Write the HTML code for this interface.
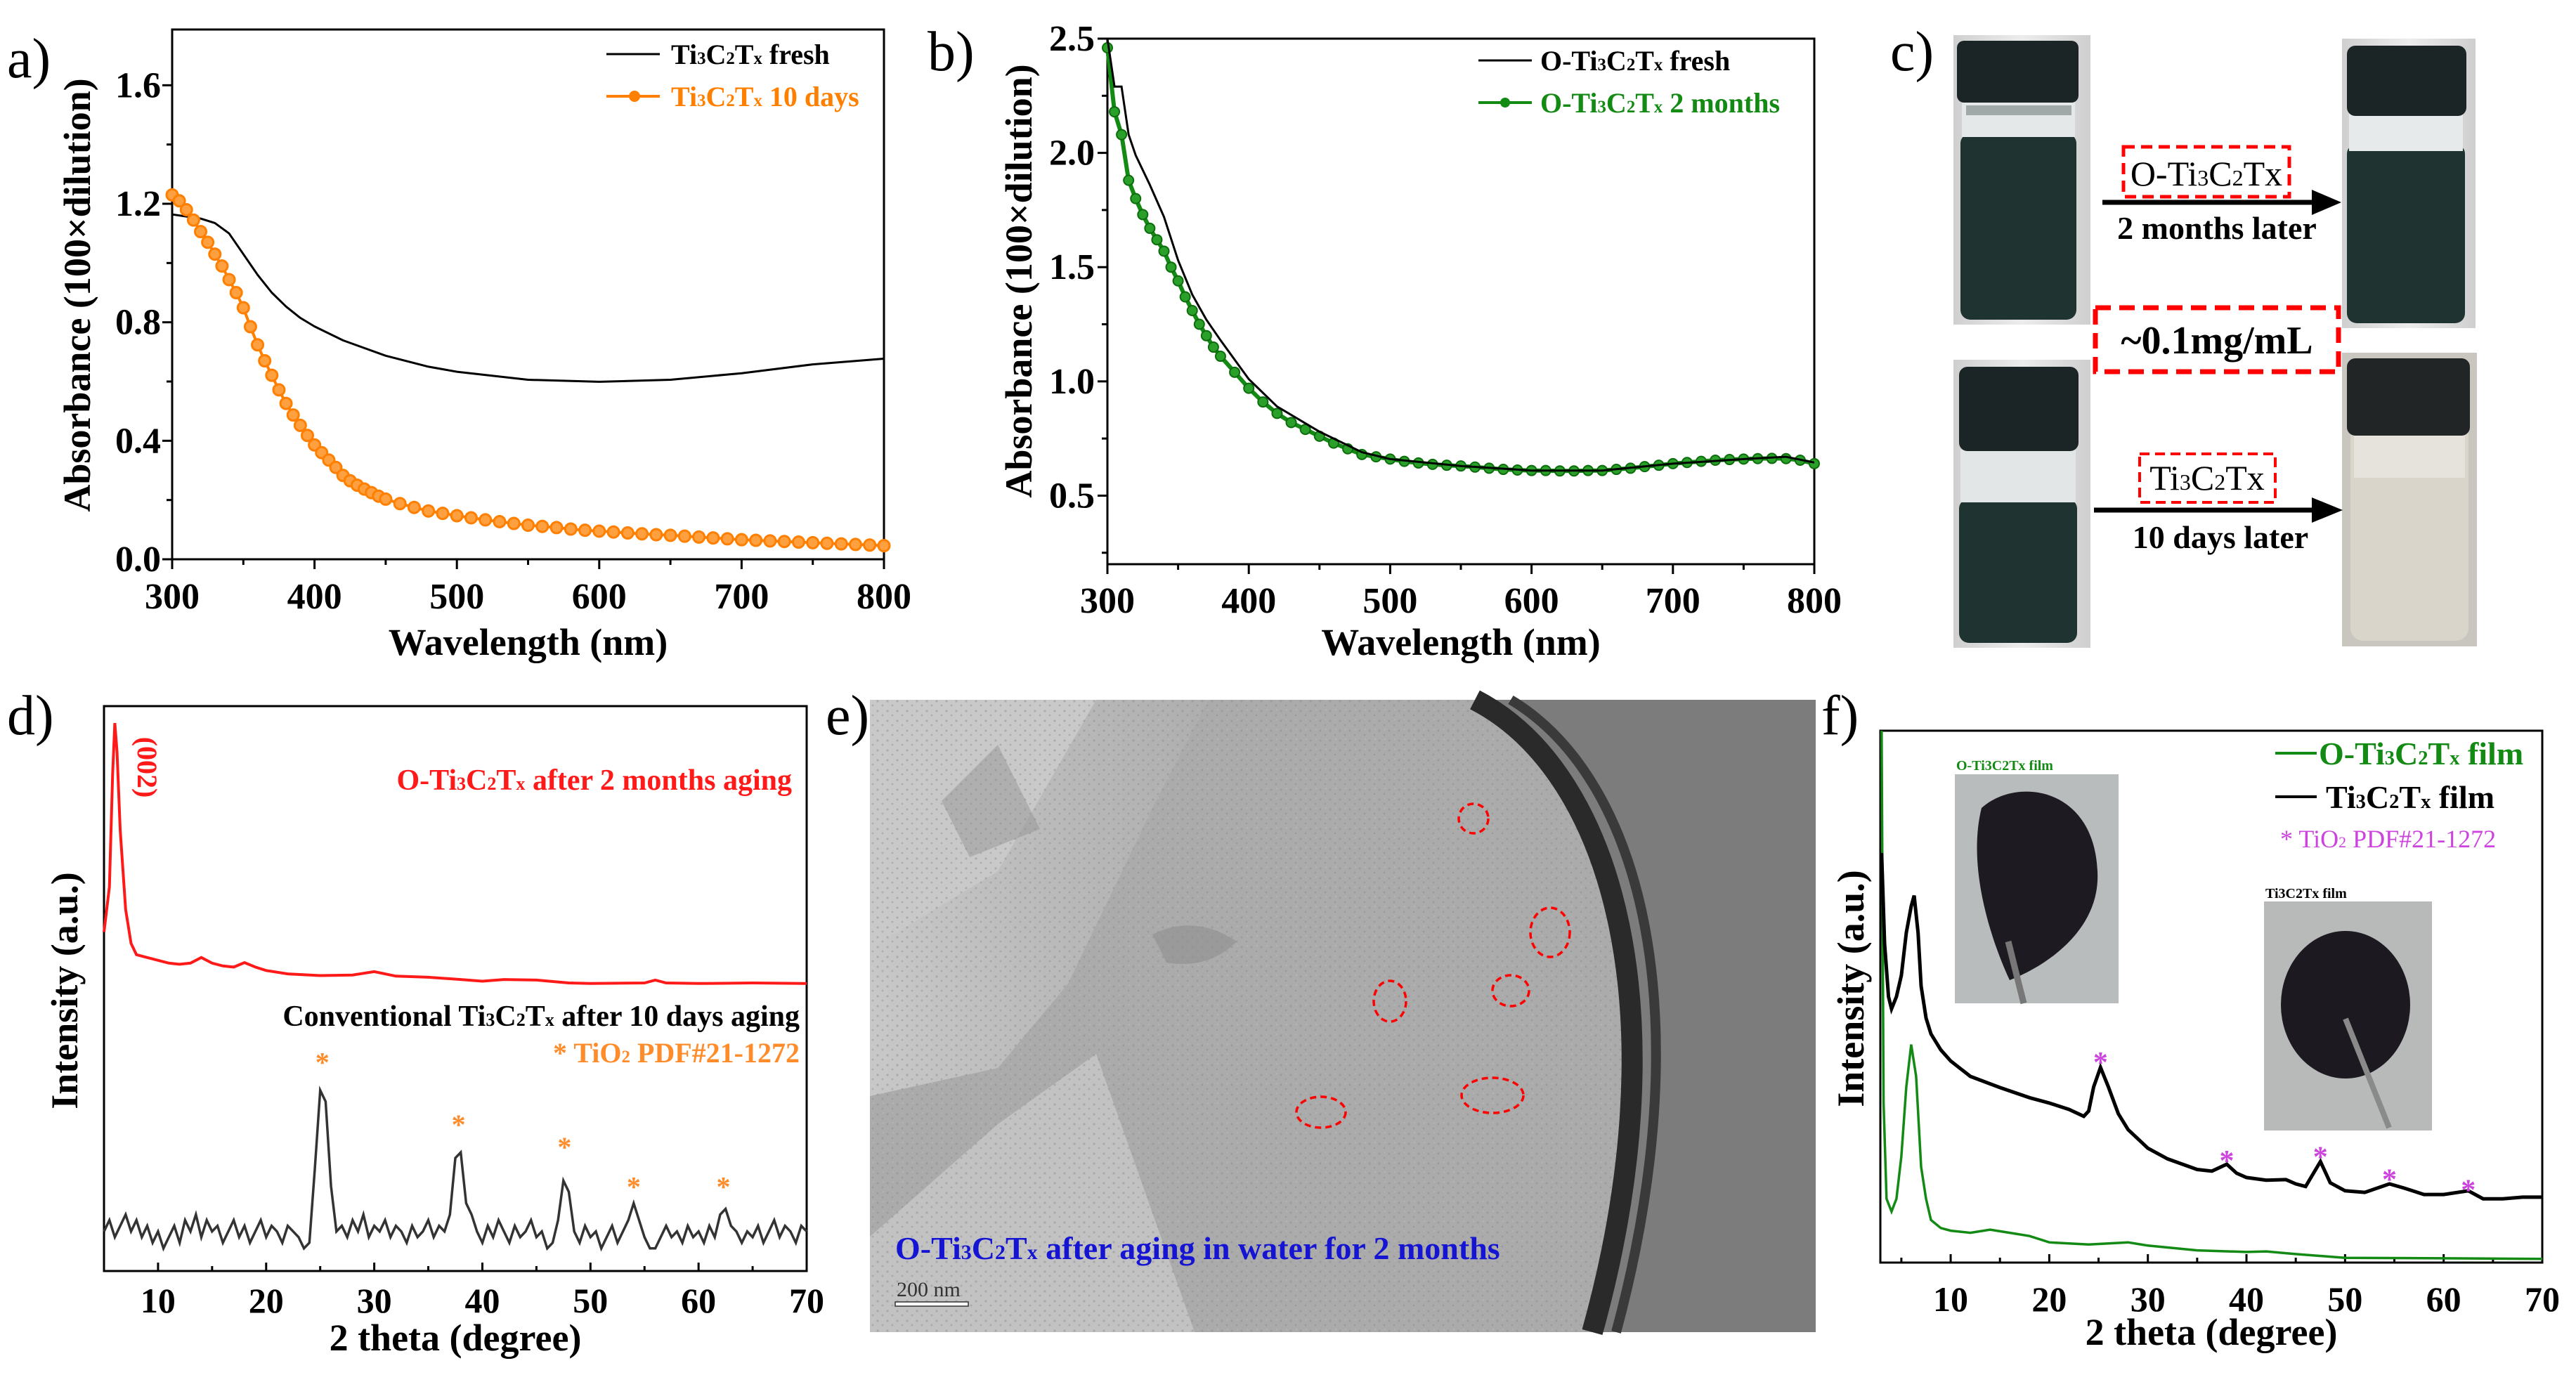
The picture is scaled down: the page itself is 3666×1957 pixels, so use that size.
<!DOCTYPE html>
<html><head><meta charset="utf-8"><style>
html,body{margin:0;padding:0;background:#fff;}
svg{display:block;}
text{font-family:"Liberation Serif",serif;font-weight:bold;}
</style></head><body>
<svg id="fig" width="3666" height="1957" viewBox="0 0 3666 1957" xmlns="http://www.w3.org/2000/svg">
<defs>
<linearGradient id="vialbg" x1="0" x2="1"><stop offset="0" stop-color="#cfcfcf"/><stop offset="0.5" stop-color="#ececec"/><stop offset="1" stop-color="#cfcfcf"/></linearGradient>
<linearGradient id="temleft" x1="0" x2="1" y1="0" y2="0"><stop offset="0" stop-color="#c8c8c8"/><stop offset="1" stop-color="#aeaeae"/></linearGradient>
<pattern id="grain" width="14" height="14" patternUnits="userSpaceOnUse"><circle cx="3" cy="4" r="1.6" fill="#8d8d8d" opacity="0.5"/><circle cx="10" cy="10" r="1.4" fill="#8a8a8a" opacity="0.45"/><circle cx="11" cy="2" r="1" fill="#c4c4c4" opacity="0.5"/></pattern>
</defs>

<text x="10" y="110" font-size="80" style="font-weight:normal">a)</text>
<text x="1320" y="100" font-size="80" style="font-weight:normal">b)</text>
<text x="2690" y="100" font-size="80" style="font-weight:normal">c)</text>
<text x="10" y="1045" font-size="80" style="font-weight:normal">d)</text>
<text x="1175" y="1045" font-size="80" style="font-weight:normal">e)</text>
<text x="2592" y="1045" font-size="80" style="font-weight:normal">f)</text>

<g id="pa"></g>
<g id="pb"></g>

<g>
  <g>
    <rect x="2780" y="50" width="195" height="412" fill="url(#vialbg)"/>
    <rect x="2790" y="190" width="165" height="265" rx="14" fill="#1f3331"/>
    <rect x="2792" y="140" width="161" height="55" fill="#e4e8e8"/>
    <rect x="2798" y="150" width="150" height="14" fill="#a0a8a8"/>
    <rect x="2785" y="58" width="173" height="88" rx="10" fill="#1b2526"/>
  </g>
  <g>
    <rect x="3333" y="55" width="190" height="412" fill="url(#vialbg)"/>
    <rect x="3340" y="205" width="168" height="255" rx="14" fill="#1f3331"/>
    <rect x="3343" y="160" width="162" height="55" fill="#e7eaea"/>
    <rect x="3340" y="65" width="170" height="100" rx="12" fill="#1b2526"/>
  </g>
  <g>
    <rect x="2780" y="512" width="195" height="410" fill="url(#vialbg)"/>
    <rect x="2788" y="710" width="168" height="205" rx="14" fill="#1f3331"/>
    <rect x="2790" y="640" width="164" height="75" fill="#e2e6e6"/>
    <rect x="2788" y="522" width="170" height="120" rx="12" fill="#1b2526"/>
  </g>
  <g>
    <rect x="3333" y="502" width="192" height="418" fill="#c9c6c0"/>
    <rect x="3345" y="600" width="168" height="312" rx="18" fill="#d9d5cb"/>
    <rect x="3350" y="620" width="158" height="60" fill="#e6e3dc"/>
    <rect x="3340" y="510" width="175" height="110" rx="12" fill="#222526"/>
  </g>
  <g>
    <line x1="2992" y1="288" x2="3300" y2="288" stroke="#000" stroke-width="7"/>
    <polygon points="3290,270 3332,288 3290,306" fill="#000"/>
  </g>
  <rect x="3022" y="209" width="236" height="71" fill="none" stroke="#f00" stroke-width="5" stroke-dasharray="16,9"/>
  <text x="3140" y="264" font-size="50" text-anchor="middle" style="font-weight:normal">O-Ti<tspan font-size="32">3</tspan>C<tspan font-size="32">2</tspan>Tx</text>
  <text x="3155" y="340" font-size="46" text-anchor="middle">2 months later</text>
  <rect x="2982" y="438" width="346" height="91" fill="none" stroke="#f00" stroke-width="7" stroke-dasharray="22,12"/>
  <text x="3155" y="503" font-size="56" text-anchor="middle">~0.1mg/mL</text>
  <rect x="3045" y="646" width="193" height="69" fill="none" stroke="#f00" stroke-width="4" stroke-dasharray="14,8"/>
  <text x="3141" y="697" font-size="50" text-anchor="middle" style="font-weight:normal">Ti<tspan font-size="32">3</tspan>C<tspan font-size="32">2</tspan>Tx</text>
  <g>
    <line x1="2980" y1="726" x2="3300" y2="726" stroke="#000" stroke-width="7"/>
    <polygon points="3290,708 3334,726 3290,744" fill="#000"/>
  </g>
  <text x="3160" y="780" font-size="46" text-anchor="middle">10 days later</text>
</g>

<g id="pd"></g>

<g>
  <rect x="1238" y="996" width="1346" height="900" fill="#ababab"/>
  <polygon points="1238,996 1720,996 1640,1150 1520,1400 1420,1520 1238,1560" fill="url(#temleft)"/>
  <polygon points="1420,1600 1560,1500 1700,1896 1238,1896 1238,1760" fill="#c2c2c2"/>
  <path d="M1238,996 L1560,996 L1420,1240 L1238,1350 Z" fill="#c9c9c9"/>
  <rect x="1238" y="996" width="1346" height="900" fill="url(#grain)"/>
  <path d="M2099,996 C2300,1100 2390,1450 2266,1896 L2584,1896 L2584,996 Z" fill="#7c7c7c"/>
  <path d="M2099,996 C2300,1100 2390,1450 2266,1896" fill="none" stroke="#2a2a2a" stroke-width="30"/>
  <path d="M2150,996 C2340,1110 2420,1450 2300,1896" fill="none" stroke="#3a3a3a" stroke-width="14"/>
  <path d="M1640,1330 Q1700,1300 1760,1340 Q1720,1380 1660,1370 Z" fill="#8f8f8f" opacity="0.6"/>
  <path d="M1340,1140 L1420,1060 L1480,1180 L1380,1220 Z" fill="#8a8a8a" opacity="0.4"/>
  <g fill="none" stroke="#ff0000" stroke-width="3.5" stroke-dasharray="9,6">
    <ellipse cx="2097" cy="1165" rx="21" ry="21"/>
    <ellipse cx="2206" cy="1327" rx="28" ry="35"/>
    <ellipse cx="1978" cy="1425" rx="23" ry="29"/>
    <ellipse cx="2150" cy="1410" rx="26" ry="22"/>
    <ellipse cx="2124" cy="1559" rx="44" ry="25"/>
    <ellipse cx="1880" cy="1583" rx="35" ry="22"/>
  </g>
  <text x="1274" y="1792" font-size="46" fill="#1414d2">O-Ti<tspan font-size="30">3</tspan>C<tspan font-size="30">2</tspan>T<tspan font-size="30">x</tspan> after aging in water for 2 months</text>
  <text x="1276" y="1845" font-size="30" fill="#333" style="font-weight:normal">200 nm</text>
  <rect x="1274" y="1853" width="104" height="6" fill="#fff" stroke="#333" stroke-width="1.5"/>
</g>

<g id="pf"></g>
</svg>

<script>
// ---------- DATA ----------
const aWavelength = [300,310,320,330,340,350,360,370,380,390,400,420,450,480,500,550,600,650,700,750,800];
const aFresh      = [1.164,1.157,1.15,1.135,1.10,1.03,0.96,0.90,0.853,0.815,0.786,0.739,0.687,0.65,0.633,0.606,0.599,0.606,0.628,0.658,0.677];
const aAgedWl     = [300,305,310,315,320,325,330,335,340,345,350,355,360,365,370,375,380,385,390,395,400,405,410,415,420,425,430,435,440,445,450,460,470,480,490,500,510,520,530,540,550,560,570,580,590,600,610,620,630,640,650,660,670,680,690,700,710,720,730,740,750,760,770,780,790,800];
const aTenDays    = [1.23,1.21,1.18,1.145,1.106,1.07,1.03,0.99,0.944,0.90,0.849,0.785,0.724,0.67,0.621,0.572,0.526,0.487,0.452,0.418,0.386,0.36,0.335,0.31,0.283,0.265,0.25,0.237,0.225,0.213,0.203,0.188,0.175,0.163,0.155,0.147,0.14,0.133,0.127,0.121,0.115,0.111,0.107,0.102,0.098,0.095,0.092,0.089,0.086,0.083,0.081,0.078,0.075,0.072,0.069,0.066,0.064,0.062,0.06,0.058,0.056,0.054,0.052,0.05,0.048,0.046];
const aYTicks = [0.0,0.4,0.8,1.2,1.6];
const aXTicks = [300,400,500,600,700,800];
const bFreshWl    = [300,305,310,315,320,330,340,350,360,370,380,400,420,450,480,500,550,600,650,700,750,780,800];
const bFresh      = [2.5,2.29,2.29,2.08,1.99,1.86,1.72,1.53,1.38,1.27,1.18,1.01,0.89,0.78,0.69,0.66,0.63,0.61,0.61,0.64,0.66,0.67,0.645];
const bAgedWl     = [300,305,310,315,320,325,330,335,340,345,350,355,360,365,370,375,380,390,400,410,420,430,440,450,460,470,480,490,500,510,520,530,540,550,560,570,580,590,600,610,620,630,640,650,660,670,680,690,700,710,720,730,740,750,760,770,780,790,800];
const bTwoMonths  = [2.46,2.18,2.08,1.88,1.80,1.73,1.67,1.62,1.57,1.50,1.44,1.37,1.31,1.25,1.20,1.15,1.11,1.04,0.97,0.91,0.86,0.82,0.79,0.76,0.73,0.705,0.68,0.67,0.66,0.65,0.643,0.637,0.633,0.63,0.625,0.62,0.615,0.612,0.61,0.61,0.608,0.608,0.61,0.61,0.615,0.62,0.627,0.633,0.64,0.645,0.65,0.655,0.658,0.66,0.662,0.663,0.662,0.655,0.64];
const bYTicks = [0.5,1.0,1.5,2.0,2.5];
const bXTicks = [300,400,500,600,700,800];
const dRedTheta = [5,5.5,5.8,6,6.2,6.5,7,7.5,8,9,10,11,12,13,14,15,16,17,18,19,20,22,25,28,30,32,35,38,40,42,45,48,50,55,56,57,60,65,70];
const dRedInt   = [60,68,88,97,92,78,64,58,56,55.5,55,54.5,54.3,54.5,55.5,54.5,54,53.8,54.6,53.8,53.2,52.6,52.3,52.4,53,52.2,52,51.6,51.3,51.6,51.5,51,50.9,51,51.5,51,50.9,51,50.9];
const dBlackStart = 5, dBlackStep = 0.5;
const dBlackInt = [7,9,6,8,10,7,9,6,8,5,7,4,6,8,5,9,7,10,6,9,7,8,5,7,9,6,8,5,7,9,6,8,7,5,8,7,6,4,5,18,32,30,15,7,8,6,9,7,10,6,8,7,9,6,8,7,5,8,6,7,9,6,8,7,10,20,21,12,10,7,5,8,6,9,7,5,8,6,7,9,6,7,4,5,9,16,14,7,5,8,6,7,4,6,8,5,7,9,12,9,6,4,4,6,8,6,7,5,8,6,7,5,8,6,10,11,8,7,5,7,6,8,5,7,9,6,8,7,5,8,7];
const dStarTheta = [25.2,37.8,47.6,54,62.3];
const dStarInt   = [38,27,23,16,16];
const dXTicks = [10,20,30,40,50,60,70];
const fGreenTheta = [3,3.2,3.5,4,4.5,5,5.5,6,6.5,7,7.5,8,9,10,12,14,16,18,20,24,28,30,35,40,42,45,50,60,70];
const fGreenInt   = [100,30,12,9.6,12,20,33,41,35,18,12,8,6.5,6,5.6,6.2,5.6,5,3.8,3.4,3.8,3.2,2.3,2,2.1,1.6,0.9,0.8,0.7];
const fBlackTheta = [3,3.3,3.7,4,4.5,5,5.5,6,6.3,6.7,7,7.5,8,9,10,12,15,18,20,22,23.5,24,24.5,25.2,26,27,28,30,32,35,36.5,38,39,40,42,44,45,46,47.5,48.5,50,52,54.5,56,58,60,62.5,64,66,68,70];
const fBlackInt   = [77,60,50,47.7,50,54,62,67,69,62,52,46,43,40,37.9,35,32.9,31,30,28.8,27.5,28.5,33,36.7,33,28,25,21.5,19.5,17.5,17.2,18.5,16.8,16,15.5,15.6,14.8,14.3,19,15,13.5,13.2,14.8,14,12.8,12.8,13.5,12,12,12.3,12.3];
const fStarTheta = [25.2,38,47.5,54.5,62.5];
const fStarInt   = [39,20.5,21.2,17,15];
const fXTicks = [10,20,30,40,50,60,70];

const NS = "http://www.w3.org/2000/svg";
function mk(parent, tag, attrs, txt){
  const e = document.createElementNS(NS, tag);
  for (const k in attrs) e.setAttribute(k, attrs[k]);
  if (txt !== undefined) e.textContent = txt;
  parent.appendChild(e);
  return e;
}
function lin(d0,d1,r0,r1){ return v => r0 + (v-d0)/(d1-d0)*(r1-r0); }
function pathFrom(xs, ys, sx, sy){
  let d = "";
  for (let i=0;i<xs.length;i++) d += (i?"L":"M") + sx(xs[i]).toFixed(1) + "," + sy(ys[i]).toFixed(1);
  return d;
}
function chemText(parent, x, y, size, color, parts, anchor, name){
  const t = mk(parent, "text", {x:x, y:y, "font-size":size, fill:color, "text-anchor":anchor||"start"});
  
  
  parts.forEach(p => { mk(t, "tspan", p[1] ? {"font-size": size*0.62} : {}, p[0]); });
  return t;
}

// PANEL A
(function(){
  const g = document.getElementById("pa");
  const L=245,R=1258,T=42,B=796;
  const sx = lin(300,800,L,R), sy = lin(0,1.7882,B,T);
  const frame = mk(g,"rect",{x:L,y:T,width:R-L,height:B-T,fill:"none",stroke:"#000","stroke-width":3});
  
  
  for (let v=300; v<=800; v+=50){ const tk=mk(g,"line",{x1:sx(v),x2:sx(v),y1:B,y2:B+(v%100===0?14:8),stroke:"#000","stroke-width":3});   }
  for (let v=0; v<=1.6001; v+=0.2){ const tk=mk(g,"line",{x1:L,x2:L-(Math.round(v*10)%4===0?14:8),y1:sy(v),y2:sy(v),stroke:"#000","stroke-width":3});   }
  aXTicks.forEach(v=>{ const t=mk(g,"text",{x:sx(v),y:866,"font-size":52,"text-anchor":"middle"},String(v));   });
  aYTicks.forEach(v=>{ const t=mk(g,"text",{x:L-16,y:sy(v)+17,"font-size":52,"text-anchor":"end"},v.toFixed(1));   });
  const xt=mk(g,"text",{x:(L+R)/2,y:932,"font-size":54,"text-anchor":"middle"},"Wavelength (nm)");
   
  const yt=mk(g,"text",{x:0,y:0,"font-size":54,"text-anchor":"middle",transform:"translate(128,420) rotate(-90)"},"Absorbance (100×dilution)");
   
  const lf=mk(g,"path",{d:pathFrom(aWavelength,aFresh,sx,sy),fill:"none",stroke:"#000","stroke-width":3,"stroke-linejoin":"round"});
   
  const lo=mk(g,"path",{d:pathFrom(aAgedWl,aTenDays,sx,sy),fill:"none",stroke:"#ff7f00","stroke-width":4});
   
  aAgedWl.forEach((w,i)=>{ const c=mk(g,"circle",{cx:sx(w),cy:sy(aTenDays[i]),r:8,fill:"#ffa040",stroke:"#ff7f00","stroke-width":3});   });
  const l1=mk(g,"line",{x1:863,x2:939,y1:77,y2:77,stroke:"#000","stroke-width":3});  
  chemText(g,955,91,40,"#000",[["Ti"],["3",1],["C"],["2",1],["T"],["x",1],[" fresh"]],"start","legend-label-fresh");
  const l2=mk(g,"line",{x1:863,x2:939,y1:137,y2:137,stroke:"#ff7f00","stroke-width":4});  
  const lm=mk(g,"circle",{cx:903,cy:137,r:8,fill:"#ff7f00"});  
  chemText(g,955,151,40,"#ff7f00",[["Ti"],["3",1],["C"],["2",1],["T"],["x",1],[" 10 days"]],"start","legend-label-10-days");
})();

// PANEL B
(function(){
  const g = document.getElementById("pb");
  const L=1576,R=2582,T=55,B=803;
  const sx = lin(300,800,L,R), sy = lin(0.2,2.5,B,T);
  const frame=mk(g,"rect",{x:L,y:T,width:R-L,height:B-T,fill:"none",stroke:"#000","stroke-width":3});
   
  for (let v=300; v<=800; v+=50){ const tk=mk(g,"line",{x1:sx(v),x2:sx(v),y1:B,y2:B+(v%100===0?14:8),stroke:"#000","stroke-width":3});   }
  for (let v=0.25; v<=2.5001; v+=0.25){ const tk=mk(g,"line",{x1:L,x2:L-(Math.round(v*100)%50===0?14:8),y1:sy(v),y2:sy(v),stroke:"#000","stroke-width":3});   }
  bXTicks.forEach(v=>{ const t=mk(g,"text",{x:sx(v),y:872,"font-size":52,"text-anchor":"middle"},String(v));   });
  bYTicks.forEach(v=>{ const t=mk(g,"text",{x:L-18,y:sy(v)+17,"font-size":52,"text-anchor":"end"},v.toFixed(1));   });
  const xt=mk(g,"text",{x:(L+R)/2,y:932,"font-size":54,"text-anchor":"middle"},"Wavelength (nm)");
   
  const yt=mk(g,"text",{x:0,y:0,"font-size":54,"text-anchor":"middle",transform:"translate(1468,400) rotate(-90)"},"Absorbance (100×dilution)");
   
  const lg=mk(g,"path",{d:pathFrom(bAgedWl,bTwoMonths,sx,sy),fill:"none",stroke:"#138a13","stroke-width":6});
   
  bAgedWl.forEach((w,i)=>{ const c=mk(g,"circle",{cx:sx(w),cy:sy(bTwoMonths[i]),r:7,fill:"#2aa02a",stroke:"#0d6d0d","stroke-width":2});   });
  const lf=mk(g,"path",{d:pathFrom(bFreshWl,bFresh,sx,sy),fill:"none",stroke:"#000","stroke-width":3});
   
  const l1=mk(g,"line",{x1:2104,x2:2180,y1:86,y2:86,stroke:"#000","stroke-width":3});  
  chemText(g,2192,100,40,"#000",[["O-Ti"],["3",1],["C"],["2",1],["T"],["x",1],[" fresh"]],"start","legend-label-o-fresh");
  const l2=mk(g,"line",{x1:2104,x2:2180,y1:146,y2:146,stroke:"#138a13","stroke-width":4});  
  const lm=mk(g,"circle",{cx:2142,cy:146,r:7,fill:"#138a13"});  
  chemText(g,2192,160,40,"#138a13",[["O-Ti"],["3",1],["C"],["2",1],["T"],["x",1],[" 2 months"]],"start","legend-label-o-2-months");
})();

// PANEL D
(function(){
  const g = document.getElementById("pd");
  const L=148,R=1148,T=1005,B=1809;
  const sx = lin(5,70,L,R), sy = lin(0,100,B,T);
  const frame=mk(g,"rect",{x:L,y:T,width:R-L,height:B-T,fill:"none",stroke:"#000","stroke-width":3});
   
  for (let v=10; v<70; v+=5){ const tk=mk(g,"line",{x1:sx(v),x2:sx(v),y1:B,y2:B-(v%10===0?12:7),stroke:"#000","stroke-width":3});   }
  dXTicks.forEach(v=>{ const t=mk(g,"text",{x:sx(v),y:1868,"font-size":50,"text-anchor":"middle"},String(v));   });
  const xt=mk(g,"text",{x:(L+R)/2,y:1922,"font-size":54,"text-anchor":"middle"},"2 theta (degree)");
   
  const yt=mk(g,"text",{x:0,y:0,"font-size":54,"text-anchor":"middle",transform:"translate(110,1410) rotate(-90)"},"Intensity (a.u.)");
   
  const lr=mk(g,"path",{d:pathFrom(dRedTheta,dRedInt,sx,sy),fill:"none",stroke:"#ff1a1a","stroke-width":4});
   
  const bx = dBlackInt.map((_,i)=>dBlackStart+i*dBlackStep);
  const lb=mk(g,"path",{d:pathFrom(bx,dBlackInt,sx,sy),fill:"none",stroke:"#333","stroke-width":3.5});
   
  dStarTheta.forEach((th,i)=>{ const s=mk(g,"text",{x:sx(th),y:sy(dStarInt[i])+22,"font-size":40,fill:"#ff8c2a","text-anchor":"middle"},"*");   });
  const t002=mk(g,"text",{x:0,y:0,"font-size":40,fill:"#ff1a1a","text-anchor":"middle",transform:"translate(196,1092) rotate(90)"},"(002)");
   
  chemText(g,1127,1124,42,"#ff1a1a",[["O-Ti"],["3",1],["C"],["2",1],["T"],["x",1],[" after 2 months aging"]],"end","label-o-ti3c2tx-aging");
  chemText(g,1138,1460,42,"#000",[["Conventional Ti"],["3",1],["C"],["2",1],["T"],["x",1],[" after 10 days aging"]],"end","label-conventional-aging");
  chemText(g,1138,1512,40,"#ff8c2a",[["* TiO"],["2",1],[" PDF#21-1272"]],"end","label-tio2-pdf-d");
})();

// PANEL F
(function(){
  const g = document.getElementById("pf");
  const L=2676,R=3618,T=1040,B=1797;
  const sx = lin(2.87,70,L,R), sy = lin(0,100,B,T);
  const i1=mk(g,"rect",{x:2782,y:1102,width:233,height:326,fill:"#b9bcbc"});  
  const f1=mk(g,"path",{d:"M2820,1150 C2870,1105 2980,1120 2985,1240 C2990,1330 2900,1380 2860,1395 C2830,1330 2800,1230 2820,1150 Z",fill:"#1e1a22"});  
  const tw1=mk(g,"line",{x1:2858,y1:1340,x2:2880,y2:1428,stroke:"#777","stroke-width":9});  
  const lab1=mk(g,"text",{x:2784,y:1096,"font-size":20,fill:"#138a13"},"O-Ti3C2Tx film");  
  const i2=mk(g,"rect",{x:3222,y:1283,width:239,height:326,fill:"#b7bab9"});  
  const f2=mk(g,"ellipse",{cx:3338,cy:1430,rx:92,ry:105,fill:"#1c1a20"});  
  const tw2=mk(g,"line",{x1:3338,y1:1450,x2:3400,y2:1605,stroke:"#8a8a8a","stroke-width":8});  
  const lab2=mk(g,"text",{x:3224,y:1278,"font-size":20,fill:"#000"},"Ti3C2Tx film");  
  const frame=mk(g,"rect",{x:L,y:T,width:R-L,height:B-T,fill:"none",stroke:"#000","stroke-width":3});
   
  for (let v=5; v<70; v+=5){ const tk=mk(g,"line",{x1:sx(v),x2:sx(v),y1:B,y2:B-(v%10===0?12:7),stroke:"#000","stroke-width":3});   }
  fXTicks.forEach(v=>{ const t=mk(g,"text",{x:sx(v),y:1866,"font-size":50,"text-anchor":"middle"},String(v));   });
  const xt=mk(g,"text",{x:(L+R)/2,y:1914,"font-size":54,"text-anchor":"middle"},"2 theta (degree)");
   
  const yt=mk(g,"text",{x:0,y:0,"font-size":54,"text-anchor":"middle",transform:"translate(2652,1407) rotate(-90)"},"Intensity (a.u.)");
   
  const lg=mk(g,"path",{d:pathFrom(fGreenTheta,fGreenInt,sx,sy),fill:"none",stroke:"#138a13","stroke-width":3.5});
   
  const lb=mk(g,"path",{d:pathFrom(fBlackTheta,fBlackInt,sx,sy),fill:"none",stroke:"#000","stroke-width":5});
   
  fStarTheta.forEach((th,i)=>{ const s=mk(g,"text",{x:sx(th),y:sy(fStarInt[i])+24,"font-size":42,fill:"#cc44dd","text-anchor":"middle"},"*");   });
  const l1=mk(g,"line",{x1:3238,x2:3297,y1:1072,y2:1072,stroke:"#138a13","stroke-width":4});  
  chemText(g,3300,1088,46,"#138a13",[["O-Ti"],["3",1],["C"],["2",1],["T"],["x",1],[" film"]],"start","legend-label-o-film");
  const l2=mk(g,"line",{x1:3238,x2:3297,y1:1134,y2:1134,stroke:"#000","stroke-width":4});  
  chemText(g,3310,1150,46,"#000",[["Ti"],["3",1],["C"],["2",1],["T"],["x",1],[" film"]],"start","legend-label-ti-film");
  const t3=mk(g,"text",{x:3245,y:1206,"font-size":36,fill:"#cc44dd",style:"font-weight:normal"});  
  mk(t3,"tspan",{},"* TiO"); mk(t3,"tspan",{"font-size":22},"2"); mk(t3,"tspan",{}," PDF#21-1272");
})();
</script>
</body></html>
